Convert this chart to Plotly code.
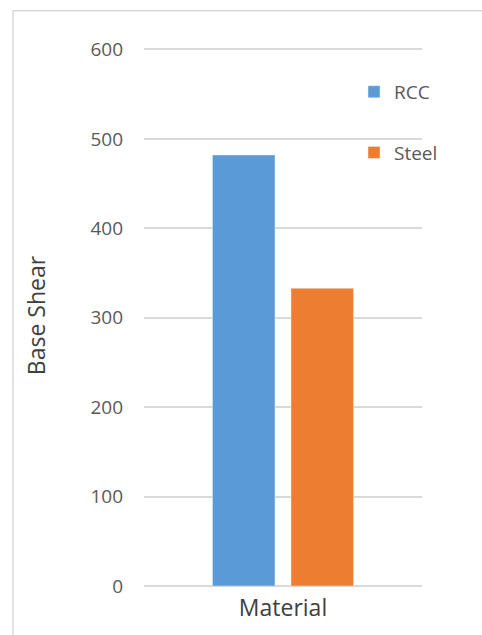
import plotly.graph_objects as go

categories = ["Material"]
series_names = ["RCC", "Steel"]
rcc_values = [482]
steel_values = [333]
colors = ["#5B9BD5", "#ED7D31"]
y_ticks = [0, 100, 200, 300, 400, 500, 600]

fig = go.Figure()
fig.add_trace(go.Bar(x=categories, y=rcc_values, name=series_names[0],
                     marker_color=colors[0], legendgroup="a"))
fig.add_trace(go.Bar(x=categories, y=steel_values, name=series_names[1],
                     marker_color=colors[1], legendgroup="b"))

L, R, T, B = 144, 60, 45, 47
W, H = 482, 635
pw, ph = W - L - R, H - T - B

fig.update_layout(
    width=W, height=H,
    margin=dict(l=L, r=R, t=T, b=B, pad=0),
    paper_bgcolor="white", plot_bgcolor="white",
    font=dict(family="Open Sans, Liberation Sans, sans-serif", size=19, color="#595959"),
    barmode="group", bargap=0.435, bargroupgap=0.204,
    legend=dict(x=(354 - L) / pw, y=1 - (73 - T) / ph, xanchor="left", yanchor="top",
                tracegroupgap=33, traceorder="grouped",
                font=dict(size=19, color="#595959"), bgcolor="rgba(0,0,0,0)"),
    xaxis=dict(showgrid=False, showline=False, ticks="",
               tickfont=dict(size=23, color="#404040"), ticklabelstandoff=6),
    yaxis=dict(range=[0, 605], tickvals=y_ticks, showgrid=True, gridcolor="#D9D9D9",
               gridwidth=1.5, zeroline=True, zerolinecolor="#D9D9D9", zerolinewidth=1.5,
               showline=False, ticks="", ticklabelstandoff=20,
               tickfont=dict(size=19, color="#595959"),
               title=dict(text="Base Shear", font=dict(size=23, color="#404040"), standoff=38)),
    shapes=[dict(type="rect", xref="paper", yref="paper",
                 x0=(13 - L) / pw, x1=(500 - L) / pw,
                 y0=1 - (650 - T) / ph, y1=1 + (T - 10.5) / ph,
                 line=dict(color="#D9D9D9", width=1.5), fillcolor="rgba(0,0,0,0)", layer="below")],
)

fig.write_html("out.html", config={"displayModeBar": False},
               post_script="document.body.style.margin='0';document.body.style.overflow='hidden';")
